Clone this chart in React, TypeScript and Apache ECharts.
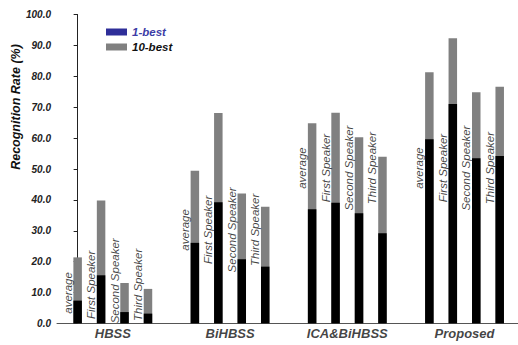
import React, { useEffect, useRef } from "react";
import * as echarts from "echarts";

const groups = ["HBSS", "BiHBSS", "ICA&BiHBSS", "Proposed"];
const speakers = ["average", "First Speaker", "Second Speaker", "Third Speaker"];
// values per group, in speaker order
const best1 = [
  [7.4, 15.6, 3.7, 3.2],
  [26.1, 39.2, 20.8, 18.4],
  [37.0, 39.1, 35.7, 29.2],
  [59.6, 71.0, 53.5, 54.2],
];
const best10 = [
  [21.4, 39.8, 13.1, 11.2],
  [49.4, 68.1, 42.1, 37.8],
  [64.8, 68.2, 60.3, 54.0],
  [81.3, 92.3, 74.8, 76.6],
];
const yTicks = [0, 10, 20, 30, 40, 50, 60, 70, 80, 90, 100];

// layout: vertical centre (in axis units) of the rotated speaker labels
const labelCenters = [
  [9.9, 12.5, 13.8, 12.5],
  [30.3, 30.3, 30.3, 30.3],
  [50.3, 50.3, 50.3, 50.3],
  [50.3, 50.3, 50.3, 50.3],
];

const FONT = "'Liberation Sans', Arial, sans-serif";

export default function App() {
  const ref = useRef<HTMLDivElement>(null);
  useEffect(() => {
    if (!ref.current) return;
    const chart = echarts.init(ref.current, null, { renderer: "svg" });
    const slot = (g: number, s: number) => g * 5 + s;
    const grayData: any[] = [];
    const blackData: any[] = [];
    const labelData: any[] = [];
    groups.forEach((g, gi) => {
      speakers.forEach((sp, si) => {
        grayData.push([slot(gi, si), best10[gi][si]]);
        blackData.push([slot(gi, si), best1[gi][si]]);
        labelData.push({ name: sp, value: [slot(gi, si), labelCenters[gi][si]] });
      });
    });
    const groupData = groups.map((g, gi) => ({ name: g, value: [slot(gi, 1.5), 0] }));

    chart.setOption({
      animation: false,
      grid: { left: 57, right: 0, top: 14.5, bottom: 21.5 },
      legend: {
        orient: "vertical",
        left: 101,
        top: 20,
        itemWidth: 21,
        itemHeight: 7,
        itemGap: 1,
        icon: "rect",
        textStyle: {
          fontFamily: FONT,
          fontSize: 11.5,
          fontWeight: "bold",
          fontStyle: "italic",
          color: "#111",
          lineHeight: 14,
        },
        data: [
          { name: "1-best", itemStyle: { color: "#2e2e99" }, textStyle: { color: "#3c3ca6" } },
          { name: "10-best", itemStyle: { color: "#808080" } },
        ],
      },
      xAxis: {
        type: "value",
        min: -0.88,
        max: 18.78,
        axisLine: { show: true, lineStyle: { color: "#555", width: 1 } },
        axisTick: { show: false },
        axisLabel: { show: false },
        splitLine: { show: false },
      },
      yAxis: {
        type: "value",
        min: yTicks[0],
        max: yTicks[yTicks.length - 1],
        interval: 10,
        axisLine: { show: true, lineStyle: { color: "#222", width: 1 } },
        axisTick: { show: true, inside: false, length: 4, lineStyle: { color: "#222" } },
        axisLabel: {
          margin: 6,
          formatter: (v: number) => v.toFixed(1),
          fontFamily: FONT,
          fontSize: 10,
          fontWeight: "bold",
          fontStyle: "italic",
          color: "#222",
        },
        splitLine: { show: false },
      },
      graphic: [
        {
          type: "text",
          x: 16,
          y: 107,
          rotation: Math.PI / 2,
          style: {
            text: "Recognition Rate (%)",
            fontFamily: FONT,
            fontSize: 12.5,
            fontWeight: "bold",
            fontStyle: "italic",
            fill: "#111",
            align: "center",
            verticalAlign: "middle",
          },
        },
      ],
      series: [
        {
          name: "10-best",
          type: "bar",
          barWidth: 8.5,
          barGap: "-100%",
          itemStyle: { color: "#808080" },
          data: grayData,
        },
        {
          name: "1-best",
          type: "bar",
          barWidth: 8.5,
          barGap: "-100%",
          itemStyle: { color: "#000" },
          data: blackData,
        },
        {
          name: "labels",
          type: "scatter",
          symbolSize: 0,
          silent: true,
          z: 5,
          data: labelData,
          label: {
            show: true,
            position: "inside",
            formatter: "{b}",
            rotate: 90,
            offset: [0, -10],
            fontFamily: FONT,
            fontSize: 11.5,
            fontStyle: "italic",
            color: "#111",
          },
        },
        {
          name: "groups",
          type: "scatter",
          symbolSize: 0,
          silent: true,
          clip: false,
          data: groupData,
          label: {
            show: true,
            position: "bottom",
            distance: 3,
            formatter: "{b}",
            fontFamily: FONT,
            fontSize: 13,
            fontWeight: "bold",
            fontStyle: "italic",
            color: "#111",
          },
        },
      ],
    });
    return () => chart.dispose();
  }, []);
  return <div ref={ref} style={{ width: 518, height: 345, position: "absolute", left: 0, top: 0 }} />;
}
